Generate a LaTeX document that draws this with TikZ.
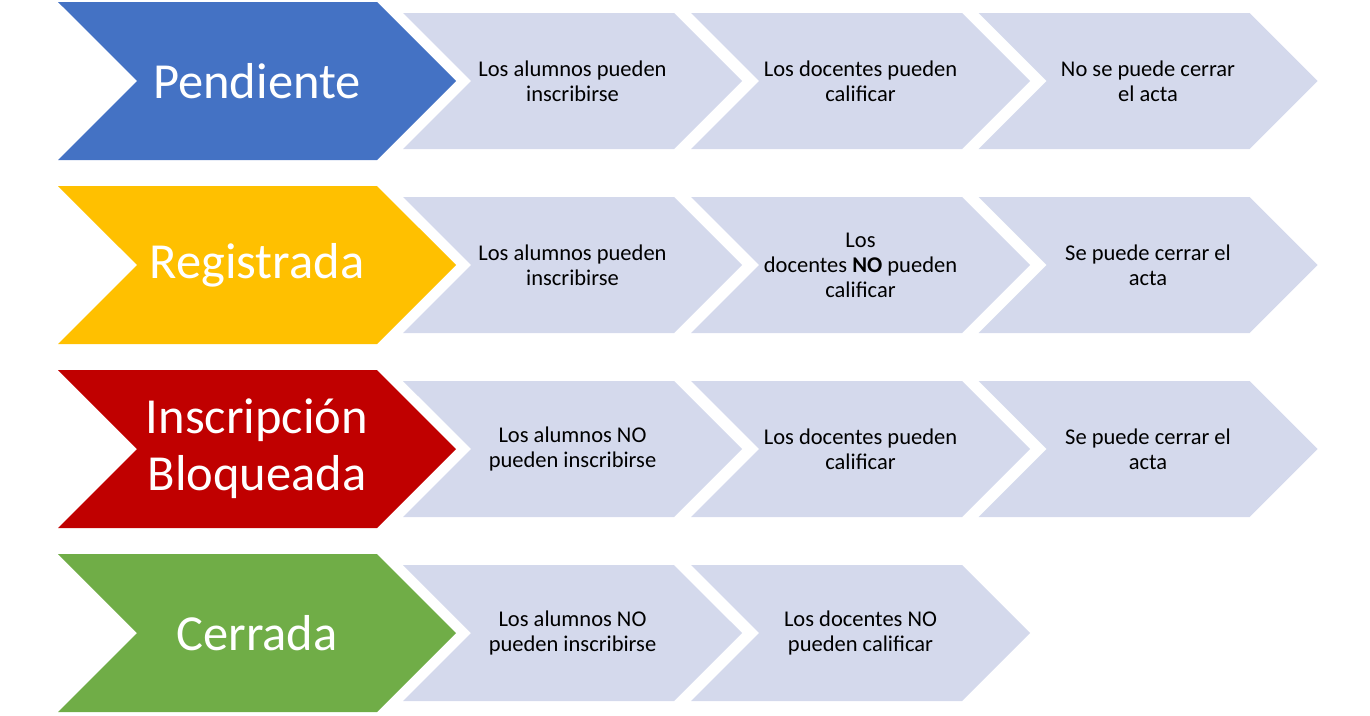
\documentclass[tikz,border=0pt]{standalone}
\usepackage{fontspec}
\setmainfont{Carlito}
\usetikzlibrary{shapes.symbols}
\definecolor{pendx}{RGB}{68,114,196}
\definecolor{regx}{RGB}{255,192,0}
\definecolor{blox}{RGB}{192,0,0}
\definecolor{cerx}{RGB}{112,173,71}
\definecolor{pasox}{RGB}{212,217,236}
\tikzset{
    estado/.style={shape=signal,signal from=west,signal to=east,signal pointer angle=90,
        minimum width=398pt,minimum height=158pt,inner sep=0pt,text=white,
        font=\fontsize{50.5}{57}\selectfont,align=center},
    regla/.style={shape=signal,signal from=west,signal to=east,signal pointer angle=90,
        fill=pasox,minimum width=339pt,minimum height=136pt,inner sep=0pt,
        font=\fontsize{22.5}{25}\selectfont,align=center}
}
\begin{document}
\begin{tikzpicture}[x=1pt,y=-1pt]
    \useasboundingbox (0,0) rectangle (1370,715);
    % estados
    \foreach \nom/\col/\txt [count=\i] in {pend/pendx/Pendiente,reg/regx/Registrada,
        blo/blox/{Inscripción\\Bloqueada},cer/cerx/Cerrada} {
        \node [estado,fill=\col] (\nom) at (257,{81+184*(\i-1)}) {\txt};
    }
    % Pendiente
    \node [regla] (pend-a) at (572.5,81) {Los alumnos pueden\\inscribirse};
    \node [regla] (pend-b) at (860.5,81) {Los docentes pueden\\calificar};
    \node [regla] (pend-c) at (1148,81) {No se puede cerrar\\el acta};
    % Registrada
    \node [regla] (reg-a) at (572.5,265) {Los alumnos pueden\\inscribirse};
    \node [regla] (reg-b) at (860.5,265) {Los\\docentes \textbf{NO} pueden\\calificar};
    \node [regla] (reg-c) at (1148,265) {Se puede cerrar el\\acta};
    % Inscripcion bloqueada
    \node [regla] (blo-a) at (572.5,449) {Los alumnos NO\\pueden inscribirse};
    \node [regla] (blo-b) at (860.5,449) {Los docentes pueden\\calificar};
    \node [regla] (blo-c) at (1148,449) {Se puede cerrar el\\acta};
    % Cerrada
    \node [regla] (cer-a) at (572.5,633) {Los alumnos NO\\pueden inscribirse};
    \node [regla] (cer-b) at (860.5,633) {Los docentes NO\\pueden calificar};
\end{tikzpicture}
\end{document}
